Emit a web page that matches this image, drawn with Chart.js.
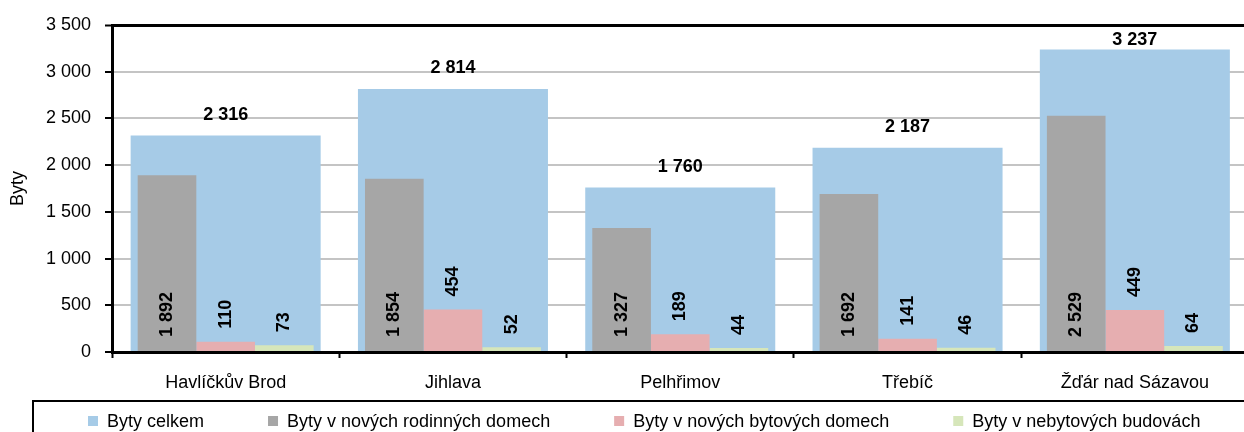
<!DOCTYPE html>
<html>
<head>
<meta charset="utf-8">
<script src="https://cdn.jsdelivr.net/npm/chart.js@4/dist/chart.umd.min.js"></script>
<style>
  html, body { margin: 0; padding: 0; background: #fff; overflow: hidden; width: 1244px; height: 432px; }
  #wrap { width: 1262px; height: 432px; }
</style>
</head>
<body>
<div id="wrap"><canvas id="c" width="1262" height="432"></canvas></div>
<script>
const categories = ['Havlíčkův Brod', 'Jihlava', 'Pelhřimov', 'Třebíč', 'Žďár nad Sázavou'];
const seriesNames = ['Byty celkem', 'Byty v nových rodinných domech', 'Byty v nových bytových domech', 'Byty v nebytových budovách'];
const bytyCelkem = [2316, 2814, 1760, 2187, 3237];
const bytyRodinne = [1892, 1854, 1327, 1692, 2529];
const bytyBytove = [110, 454, 189, 141, 449];
const bytyNebytove = [73, 52, 44, 46, 64];
const yTicks = [0, 500, 1000, 1500, 2000, 2500, 3000, 3500];
const yTitle = 'Byty';

const colors = ['#a6cbe7', '#a6a6a6', '#e6aeb0', '#d6e6ba'];
const FONT = "'Liberation Sans', Arial, sans-serif";

function fmt(v) { return String(v).replace(/\B(?=(\d{3})+(?!\d))/g, ' '); }

const labelPlugin = {
  id: 'valueLabels',
  afterDatasetsDraw(chart) {
    const ctx = chart.ctx;
    const area = chart.chartArea;
    ctx.save();
    ctx.fillStyle = '#000';
    ctx.font = 'bold 18px ' + FONT;
    chart.data.datasets.forEach((ds, di) => {
      const meta = chart.getDatasetMeta(di);
      meta.data.forEach((bar, i) => {
        const txt = fmt(ds.data[i]);
        if (di === 0) {
          let y = bar.y - 21;
          if (y < area.top + 15) y = area.top + 15;
          ctx.textAlign = 'center';
          ctx.textBaseline = 'middle';
          ctx.fillText(txt, bar.x, y);
        } else {
          let start;
          if (di === 1) start = bar.base - 14;
          else start = bar.y - 13;
          ctx.save();
          ctx.translate(bar.x, start);
          ctx.rotate(-Math.PI / 2);
          ctx.textAlign = 'left';
          ctx.textBaseline = 'middle';
          ctx.fillText(txt, 0, 0);
          ctx.restore();
        }
      });
    });
    ctx.restore();
  }
};

const legendPlugin = {
  id: 'boxLegend',
  afterDraw(chart) {
    const ctx = chart.ctx;
    ctx.save();
    ctx.strokeStyle = '#000';
    ctx.lineWidth = 2;
    ctx.strokeRect(33, 401, chart.width + 20, 60);
    ctx.font = '18px ' + FONT;
    ctx.textBaseline = 'middle';
    ctx.textAlign = 'left';
    let x = 88;
    const yc = 421;
    chart.data.datasets.forEach((ds) => {
      ctx.fillStyle = ds.backgroundColor;
      ctx.fillRect(x, yc - 5, 10, 10);
      ctx.fillStyle = '#000';
      ctx.fillText(ds.label, x + 19, yc + 1);
      x += 19 + ctx.measureText(ds.label).width + 64;
    });
    ctx.restore();
  }
};

new Chart(document.getElementById('c'), {
  type: 'bar',
  data: {
    labels: categories,
    datasets: [
      { label: seriesNames[0], data: bytyCelkem, backgroundColor: colors[0], order: 1, grouped: false,
        categoryPercentage: 0.836, barPercentage: 1.0 },
      { label: seriesNames[1], data: bytyRodinne, backgroundColor: colors[1], order: 0,
        categoryPercentage: 0.774, barPercentage: 1.0 },
      { label: seriesNames[2], data: bytyBytove, backgroundColor: colors[2], order: 0,
        categoryPercentage: 0.774, barPercentage: 1.0 },
      { label: seriesNames[3], data: bytyNebytove, backgroundColor: colors[3], order: 0,
        categoryPercentage: 0.774, barPercentage: 1.0 }
    ]
  },
  options: {
    responsive: false,
    animation: false,
    devicePixelRatio: 1,
    layout: { padding: { top: 25, left: 0, right: 13.5, bottom: 40 } },
    plugins: { legend: { display: false }, tooltip: { enabled: false } },
    scales: {
      x: {
        position: 'bottom',
        offset: true,
        grid: { display: true, drawOnChartArea: false, drawTicks: true, tickLength: 6, tickColor: '#000', tickWidth: 2, offset: true },
        border: { display: true, color: '#000', width: 3 },
        ticks: { color: '#000', font: { family: FONT, size: 18 }, padding: 14, maxRotation: 0, autoSkip: false },
        afterFit(scale) { scale.height = 40; }
      },
      y: {
        min: 0,
        max: 3500,
        afterBuildTicks(scale) { scale.ticks = yTicks.map(v => ({ value: v })); },
        grid: {
          color: (c) => (c.tick && c.tick.value === 3500) ? '#000' : '#c4c4c4',
          lineWidth: (c) => (c.tick && c.tick.value === 3500) ? 3 : 2,
          drawTicks: true, tickLength: 7, tickColor: '#000', tickWidth: 2
        },
        border: { display: true, color: '#000', width: 3 },
        ticks: { color: '#000', font: { family: FONT, size: 18 }, padding: 14, callback: (v) => fmt(v) },
        title: { display: true, text: yTitle, color: '#000', font: { family: FONT, size: 18 }, padding: { top: 7, bottom: 0 } },
        afterFit(scale) { scale.width = 112; }
      }
    }
  },
  plugins: [labelPlugin, legendPlugin]
});
</script>
</body>
</html>
